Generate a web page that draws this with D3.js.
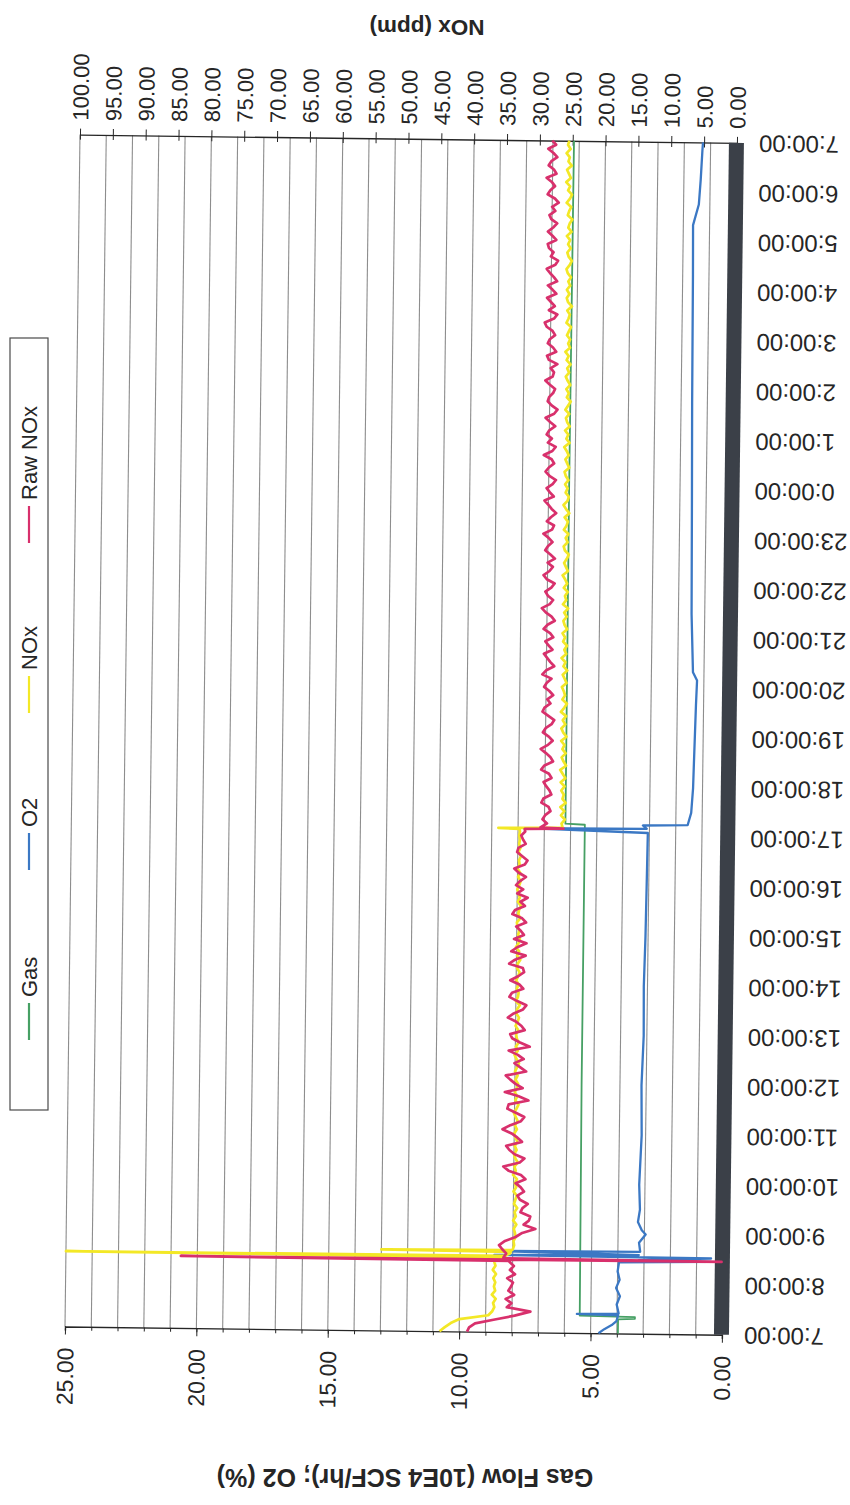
<!DOCTYPE html>
<html>
<head>
<meta charset="utf-8">
<script src="https://cdn.jsdelivr.net/npm/d3@7"></script>
<style>
  html, body { margin: 0; padding: 0; background: #fff; }
  svg { display: block; font-family: "Liberation Sans", Arial, sans-serif; }
</style>
</head>
<body>
<svg id="chart" width="850" height="1505"></svg>
<script>
// ---------------- data ----------------
const seriesNames = ["Gas", "O2", "NOx", "Raw NOx"];
const leftTicks = [0, 5, 10, 15, 20, 25];           // Gas Flow (10E4 SCF/hr); O2 (%)
const noxTicks = d3.range(0, 101, 5);               // NOx (ppm)

// Gas flow, irregular samples
const gasTimes  = ["D1 07:00","D1 07:17","D1 07:18","D1 07:20","D1 07:21","D1 12:00","D1 17:14","D1 17:15","D2 00:00","D2 07:00"];
const gasValues = [3.96, 3.96, 3.32, 3.32, 5.42, 5.46, 5.46, 6.20, 6.22, 6.20];

// O2, irregular samples
const o2Times = ["D1 07:00","D1 07:05","D1 07:10","D1 07:15","D1 07:22","D1 07:23","D1 07:24","D1 07:35","D1 07:45","D1 07:55",
  "D1 08:05","D1 08:15","D1 08:26","D1 08:28","D1 08:29","D1 08:32","D1 08:33","D1 08:35","D1 08:38","D1 08:39",
  "D1 08:50","D1 09:00","D1 09:05","D1 09:15","D1 09:30","D1 10:00","D1 11:00","D1 12:00","D1 13:00","D1 14:00",
  "D1 15:00","D1 16:00","D1 17:05","D1 17:09","D1 17:10","D1 17:14","D1 17:15","D1 17:30","D1 18:00","D1 18:30",
  "D1 19:40","D1 20:10","D1 20:20","D1 21:30","D1 23:45","D2 01:45","D2 04:20","D2 05:20","D2 05:45","D2 06:15",
  "D2 06:50","D2 07:00"];
const o2Values = [4.70, 4.48, 4.20, 4.02, 3.96, 5.53, 3.94, 4.02, 3.90, 4.05,
  3.92, 4.00, 3.95, 0.45, 3.20, 0.45, 8.70, 3.20, 8.90, 3.15,
  3.20, 2.95, 3.10, 3.25, 3.18, 3.22, 3.15, 3.18, 3.12, 3.14,
  3.10, 3.08, 3.06, 7.40, 3.10, 3.25, 1.55, 1.42, 1.36, 1.34,
  1.29, 1.26, 1.42, 1.50, 1.54, 1.58, 1.61, 1.63, 1.42, 1.36,
  1.31, 1.29];

// NOx (ppm), 5-minute readings, one row per hour starting 7:00
const noxByHour = [
  [43.0, 42.2, 41.3, 40.0, 35.6, 35.0, 34.7, 34.9, 34.5, 35.1, 34.6, 34.8],
  [34.6, 34.9, 34.5, 35.0, 34.6, 34.8, 33.0, 32.4, 32.0, 31.8, 31.9, 31.6],
  [31.7, 31.9, 31.5, 32.0, 31.6, 31.8, 31.4, 31.9, 31.7, 31.5, 32.0, 31.6],
  [31.8, 31.5, 32.1, 31.7, 31.9, 31.4, 31.8, 32.0, 31.6, 31.9, 31.5, 31.8],
  [32.0, 31.6, 31.9, 31.5, 31.8, 32.1, 31.7, 31.4, 31.9, 31.6, 32.0, 31.7],
  [31.5, 31.9, 31.6, 32.0, 31.7, 31.4, 31.8, 32.1, 31.6, 31.9, 31.5, 31.8],
  [31.9, 31.6, 32.0, 31.7, 31.5, 31.9, 31.8, 31.4, 32.0, 31.7, 31.6, 31.9],
  [31.6, 32.0, 31.7, 31.5, 31.9, 31.8, 31.4, 31.9, 31.6, 32.1, 31.7, 31.5],
  [31.8, 31.6, 31.9, 32.0, 31.5, 31.8, 31.7, 31.4, 31.9, 31.6, 31.8, 32.0],
  [31.7, 31.5, 31.9, 31.6, 32.0, 31.7, 31.8, 31.5, 31.9, 31.6, 31.8, 31.7],
  [31.8, 31.7, 25.2, 25.4, 24.9, 25.5, 25.0, 25.6, 24.8, 25.3, 25.1, 25.5],
  [25.0, 25.6, 24.9, 25.3, 25.7, 24.8, 25.2, 25.5, 24.9, 25.4, 25.1, 25.6],
  [24.8, 25.3, 25.6, 25.0, 25.4, 24.9, 25.7, 25.2, 24.8, 25.5, 25.1, 25.3],
  [25.6, 24.9, 25.2, 25.5, 24.8, 25.4, 25.1, 25.7, 25.0, 25.3, 24.9, 25.5],
  [25.2, 25.6, 24.9, 25.3, 25.5, 25.0, 25.4, 24.8, 25.6, 25.1, 25.3, 24.9],
  [25.5, 25.0, 25.3, 25.7, 24.9, 25.2, 25.5, 25.1, 24.8, 25.4, 25.6, 25.0],
  [25.3, 24.9, 25.6, 25.2, 25.0, 25.5, 24.8, 25.3, 25.7, 25.1, 24.9, 25.4],
  [25.1, 25.5, 25.0, 25.4, 25.6, 24.9, 25.2, 25.5, 25.0, 25.3, 25.7, 24.9],
  [25.4, 25.1, 25.6, 24.9, 25.3, 25.5, 25.0, 25.6, 25.2, 24.8, 25.4, 25.1],
  [25.5, 24.9, 25.3, 25.6, 25.1, 25.4, 24.9, 25.5, 25.2, 25.7, 25.0, 25.3],
  [25.0, 25.5, 25.2, 24.9, 25.6, 25.3, 25.1, 25.5, 24.8, 25.4, 25.6, 25.2],
  [25.6, 25.1, 25.4, 25.0, 25.5, 25.7, 25.2, 24.9, 25.4, 25.6, 25.1, 25.5],
  [25.2, 25.7, 25.0, 25.5, 25.3, 24.9, 25.6, 25.4, 25.1, 25.8, 25.3, 25.0],
  [25.6, 25.3, 25.9, 25.2, 25.5, 25.8, 25.1, 25.6, 25.4, 25.9, 25.3, 25.7],
  [25.5]
];
// short excursions between the 5-minute readings
const noxExtraTimes  = ["D1 08:31","D1 08:32","D1 08:37","D1 08:38","D1 08:39","D1 17:08","D1 17:09"];
const noxExtraValues = [100.0, 33.4, 32.3, 52.0, 32.1, 31.8, 35.0];

// Raw NOx (ppm), 5-minute readings, one row per hour starting 7:00
const rawNoxByHour = [
  [38.8, 38.5, 37.6, 34.6, 31.6, 29.2, 32.8, 32.1, 33.0, 31.7, 32.6, 32.2],
  [31.9, 32.8, 31.6, 32.4, 31.8, 32.5, 33.4, 33.0, 33.6, 34.1, 33.2, 31.6],
  [30.6, 28.6, 30.4, 29.6, 29.4, 30.9, 30.6, 29.8, 31.0, 31.4, 30.4, 30.9],
  [31.7, 30.2, 30.9, 32.8, 33.6, 31.1, 30.4, 31.9, 32.7, 33.2, 30.8, 31.5],
  [32.4, 33.8, 32.6, 31.0, 30.5, 31.8, 33.1, 32.9, 29.9, 31.4, 33.5, 30.8],
  [31.9, 32.7, 33.4, 30.3, 31.2, 32.1, 30.7, 31.6, 33.0, 29.8, 31.3, 32.5],
  [32.8, 30.6, 31.1, 31.9, 33.2, 32.3, 30.9, 30.4, 31.8, 33.0, 32.6, 30.9],
  [31.5, 32.9, 31.7, 30.8, 31.0, 33.1, 32.2, 30.6, 32.8, 31.9, 30.5, 32.4],
  [30.9, 31.4, 32.1, 30.6, 31.2, 32.7, 32.3, 30.8, 31.5, 30.4, 32.0, 31.1],
  [32.2, 31.6, 30.7, 31.8, 32.5, 30.9, 30.5, 31.3, 32.1, 31.9, 30.8, 31.2],
  [31.5, 30.9, 28.6, 27.6, 28.3, 27.9, 27.1, 27.4, 28.5, 28.2, 27.0, 27.3],
  [27.8, 28.2, 27.0, 27.4, 28.6, 28.1, 26.8, 27.2, 27.9, 28.7, 27.6, 26.9],
  [27.5, 28.4, 28.0, 27.1, 26.7, 27.6, 28.5, 28.2, 27.3, 27.8, 26.9, 27.5],
  [28.3, 27.9, 27.2, 28.6, 28.0, 26.8, 27.4, 27.9, 28.4, 27.1, 27.7, 28.2],
  [27.0, 27.5, 28.5, 27.9, 26.8, 27.3, 28.2, 28.8, 27.6, 27.1, 27.9, 28.3],
  [27.4, 26.9, 28.1, 28.6, 27.7, 27.2, 28.0, 26.9, 27.6, 28.4, 28.0, 27.3],
  [27.9, 28.7, 27.4, 27.1, 28.2, 27.6, 26.8, 27.5, 28.0, 28.6, 27.2, 27.8],
  [28.3, 27.4, 26.9, 27.9, 28.5, 28.0, 27.2, 27.6, 28.8, 27.5, 27.0, 28.2],
  [27.6, 28.4, 28.0, 27.1, 27.9, 28.6, 27.3, 26.8, 27.7, 28.3, 28.1, 27.5],
  [27.2, 28.0, 28.7, 27.6, 27.4, 27.9, 26.9, 28.2, 28.5, 27.1, 27.6, 28.4],
  [28.1, 27.3, 27.7, 28.6, 28.9, 27.5, 27.0, 28.3, 27.4, 28.0, 28.6, 27.2],
  [27.8, 28.5, 27.1, 27.6, 28.2, 28.7, 27.4, 27.0, 28.1, 27.7, 28.4, 28.6],
  [27.3, 27.9, 28.6, 27.8, 27.2, 28.1, 28.4, 27.5, 28.0, 27.0, 27.6, 28.7],
  [28.3, 27.6, 28.1, 28.9, 27.4, 27.8, 28.6, 28.2, 27.3, 27.9, 28.7, 27.5],
  [28.1]
];
const rawNoxExtraTimes  = ["D1 08:26","D1 08:27","D1 08:28","D1 08:29","D1 17:08","D1 17:09"];
const rawNoxExtraValues = [32.4, 82.5, 0.2, 33.2, 31.0, 25.1];

const seriesColors = { "Gas": "#46a064", "O2": "#3b78c4", "NOx": "#f3e826", "Raw NOx": "#d8306c" };

// ---------------- helpers ----------------
const startTime = new Date(2000, 0, 1, 7, 0);
const endTime = new Date(2000, 0, 2, 7, 0);
function parseStamp(s) {
  const [d, hm] = s.split(" ");
  const [h, m] = hm.split(":").map(Number);
  return new Date(2000, 0, d === "D1" ? 1 : 2, h, m);
}
function pairs(times, values) {
  return times.map((t, i) => ({ t: parseStamp(t), v: values[i] }));
}
function gridSeries(byHour, extraTimes, extraValues) {
  const pts = [];
  byHour.forEach((row, h) => row.forEach((v, j) => {
    pts.push({ t: d3.timeMinute.offset(startTime, h * 60 + j * 5), v });
  }));
  return pts.concat(pairs(extraTimes, extraValues)).sort((a, b) => a.t - b.t);
}

// ---------------- layout ----------------
const svg = d3.select("#chart");
const plot = { left: 72.4, right: 729.4, top: 139, bottom: 1331 };
const ink = "#262626";

const xLeft = d3.scaleLinear().domain([0, 25]).range([plot.right, plot.left]);
const xNox = d3.scaleLinear().domain([0, 100]).range([plot.right, plot.left]);
const yTime = d3.scaleTime().domain([startTime, endTime]).range([plot.bottom, plot.top]);

// the page sits very slightly turned
const g = svg.append("g").attr("transform", "rotate(0.72,425,740)");

// vertical gridlines, one per unit of the gas/O2 axis
g.append("g").selectAll("line")
  .data(d3.range(0, 26))
  .join("line")
  .attr("x1", d => xLeft(d)).attr("x2", d => xLeft(d))
  .attr("y1", plot.top).attr("y2", plot.bottom)
  .attr("stroke", "#8d8d8d").attr("stroke-width", 1.1);

// bottom axis: Gas Flow / O2
const minorAxis = d3.axisBottom(xLeft).tickValues(d3.range(0, 26)).tickSize(4).tickFormat("");
g.append("g").attr("transform", `translate(0,${plot.bottom})`).call(minorAxis)
  .call(s => s.select(".domain").attr("stroke", ink).attr("stroke-width", 1.4))
  .call(s => s.selectAll(".tick line").attr("stroke", ink));
const leftAxis = d3.axisBottom(xLeft).tickValues(leftTicks).tickSize(8).tickSizeOuter(0)
  .tickFormat(d3.format(".2f"));
g.append("g").attr("transform", `translate(0,${plot.bottom})`).call(leftAxis)
  .call(s => s.select(".domain").remove())
  .call(s => s.selectAll(".tick line").attr("stroke", ink))
  .call(s => s.selectAll(".tick text")
    .attr("x", 0).attr("y", 0).attr("dy", "0.35em")
    .attr("transform", "translate(0,21) rotate(-90)")
    .attr("text-anchor", "end")
    .attr("fill", ink).attr("font-size", 23));

// top axis: NOx
const noxAxis = d3.axisTop(xNox).tickValues(noxTicks).tickSize(6).tickSizeOuter(0)
  .tickFormat(d3.format(".2f"));
g.append("g").attr("transform", `translate(0,${plot.top})`).call(noxAxis)
  .call(s => s.select(".domain").attr("stroke", ink).attr("stroke-width", 1.4))
  .call(s => s.selectAll(".tick line").attr("stroke", ink).attr("y2", 5).attr("y1", -6))
  .call(s => s.selectAll(".tick text")
    .attr("x", 0).attr("y", 0).attr("dy", "0.35em")
    .attr("transform", "translate(0,-14) rotate(-90)")
    .attr("text-anchor", "start")
    .attr("fill", ink).attr("font-size", 22));

// dark band along the time axis
g.append("rect")
  .attr("x", xLeft(0) - 8).attr("width", 15)
  .attr("y", plot.top).attr("height", plot.bottom - plot.top)
  .attr("fill", "#3b4048");

// time axis on the right
const timeAxis = d3.axisRight(yTime).ticks(d3.timeHour.every(1)).tickSize(0)
  .tickFormat(d3.timeFormat("%-H:%M:%S"));
g.append("g").attr("transform", `translate(${xLeft(0) + 7},0)`).call(timeAxis)
  .call(s => s.select(".domain").remove())
  .call(s => s.selectAll(".tick text")
    .attr("x", 0).attr("y", 0).attr("dy", "0.35em")
    .attr("transform", "translate(15,0) rotate(180)")
    .attr("text-anchor", "end")
    .attr("fill", ink).attr("font-size", 24));

// series
const gasData = pairs(gasTimes, gasValues);
const o2Data = pairs(o2Times, o2Values);
const noxData = gridSeries(noxByHour, noxExtraTimes, noxExtraValues);
const rawData = gridSeries(rawNoxByHour, rawNoxExtraTimes, rawNoxExtraValues);

const lineLeft = d3.line().x(d => xLeft(d.v)).y(d => yTime(d.t));
const lineNox = d3.line().x(d => xNox(d.v)).y(d => yTime(d.t));

const series = [
  { name: "Gas", data: gasData, gen: lineLeft, w: 1.8 },
  { name: "O2", data: o2Data, gen: lineLeft, w: 2.3 },
  { name: "NOx", data: noxData, gen: lineNox, w: 2.7 },
  { name: "Raw NOx", data: rawData, gen: lineNox, w: 2.7 }
];
g.append("g").selectAll("path")
  .data(series)
  .join("path")
  .attr("d", s => s.gen(s.data))
  .attr("fill", "none")
  .attr("stroke", s => seriesColors[s.name])
  .attr("stroke-width", s => s.w)
  .attr("stroke-linejoin", "round");

// axis titles (printed upside down)
svg.append("text")
  .attr("transform", "translate(427,28) rotate(180)")
  .attr("text-anchor", "middle").attr("dy", "0.35em")
  .attr("font-size", 22.5).attr("font-weight", "bold").attr("fill", ink)
  .text("NOx (ppm)");
svg.append("text")
  .attr("transform", "translate(405,1478) rotate(180)")
  .attr("text-anchor", "middle").attr("dy", "0.35em")
  .attr("font-size", 25).attr("font-weight", "bold").attr("fill", ink)
  .text("Gas Flow (10E4 SCF/hr); O2 (%)");

// legend
const legend = svg.append("g");
legend.append("rect")
  .attr("x", 10).attr("y", 338).attr("width", 38).attr("height", 772)
  .attr("fill", "#fff").attr("stroke", "#4a4a4a").attr("stroke-width", 1.2);
const legendBase = { "Gas": 1040, "O2": 870, "NOx": 713, "Raw NOx": 543 };
const items = legend.selectAll("g.item")
  .data(seriesNames)
  .join("g").attr("class", "item");
items.append("line")
  .attr("x1", 29).attr("x2", 29)
  .attr("y1", d => legendBase[d]).attr("y2", d => legendBase[d] - 37)
  .attr("stroke", d => seriesColors[d]).attr("stroke-width", 2.2);
items.append("text")
  .attr("transform", d => `translate(37,${legendBase[d] - 43}) rotate(-90)`)
  .attr("text-anchor", "start")
  .attr("font-size", 22).attr("fill", ink)
  .text(d => d);
</script>
</body>
</html>
